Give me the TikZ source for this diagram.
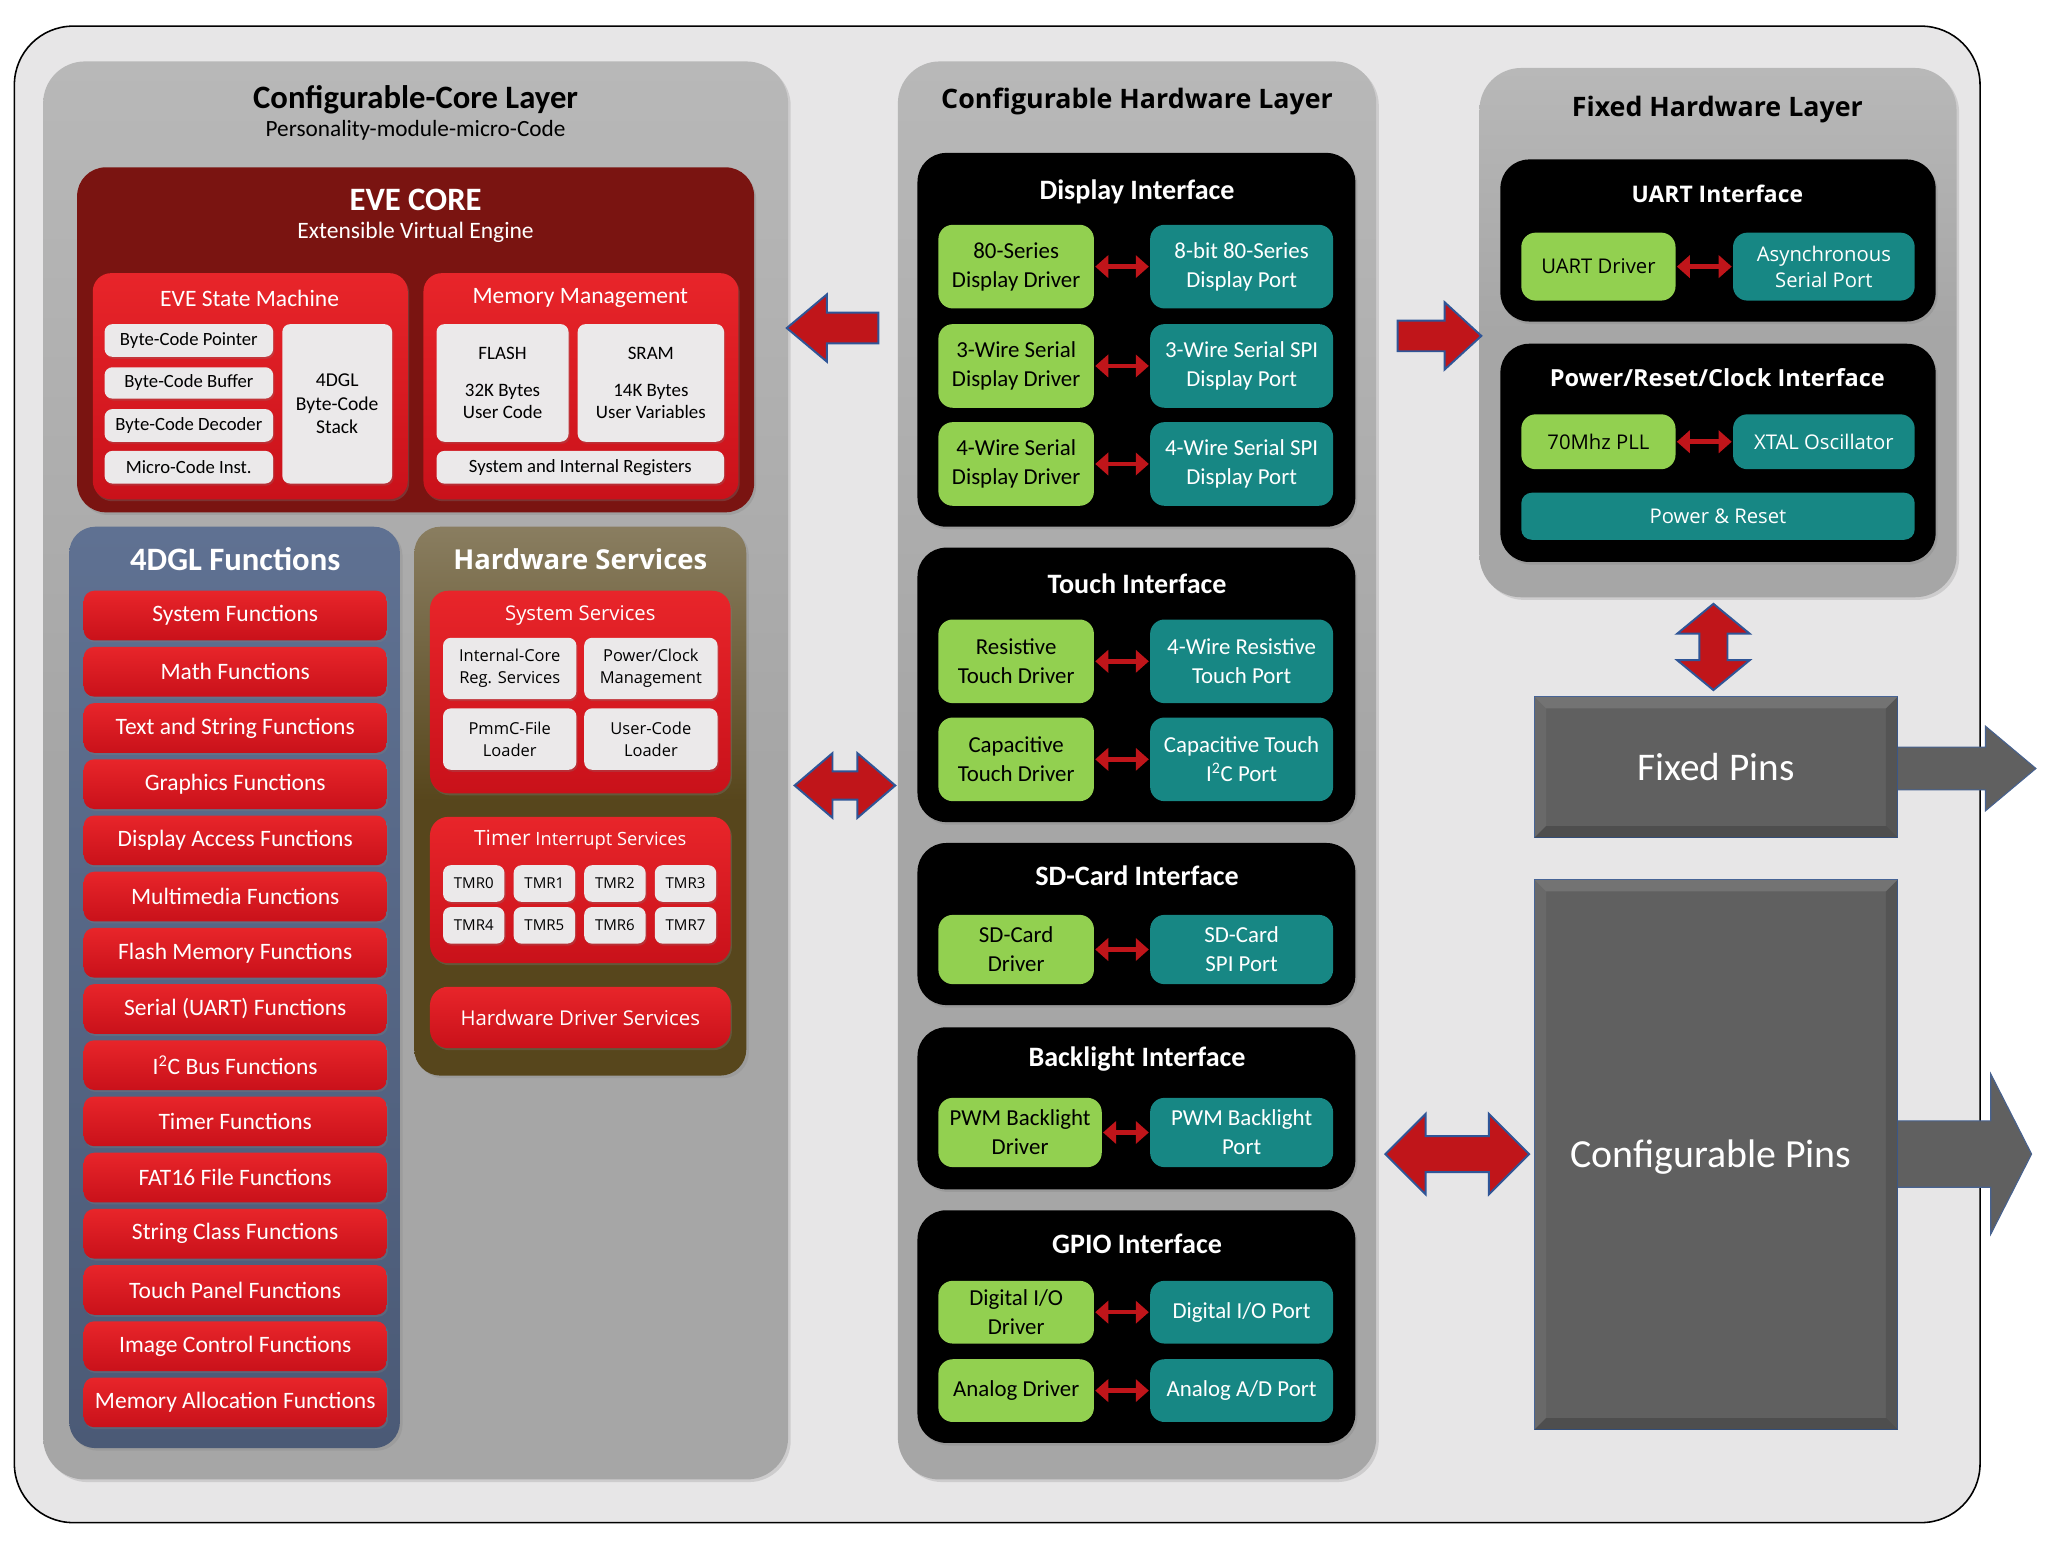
\documentclass[tikz,border=0pt]{standalone}
\usepackage{fontspec}
\setmainfont{Carlito}
\newfontfamily\tah{Open Sans}
\usetikzlibrary{shapes.arrows,arrows.meta,shadows,calc}
\definecolor{bgc}{HTML}{E7E6E7}
\definecolor{panelgray}{HTML}{A6A6A6}
\definecolor{paneltop}{HTML}{B8B8B8}
\definecolor{evered}{HTML}{7A1411}
\definecolor{redtop}{HTML}{E8252A}
\definecolor{redbot}{HTML}{C9111A}
\definecolor{lightbox}{HTML}{EBE9EA}
\definecolor{slatetop}{HTML}{5F7192}
\definecolor{slatebot}{HTML}{4B5A76}
\definecolor{olive}{HTML}{57461C}
\definecolor{greenc}{HTML}{92D050}
\definecolor{tealc}{HTML}{178784}
\definecolor{arrred}{HTML}{C0151A}
\definecolor{arrblue}{HTML}{2F5597}
\definecolor{pingray}{HTML}{606060}
\newcommand{\fs}[2]{\fontsize{#1}{#2}\selectfont}
\newcommand{\bx}[7]{\node[base, #6, minimum width={(#4)-(#2)}, minimum height={(#5)-(#3)}] (#1) at ({((#2)+(#4))/2},{((#3)+(#5))/2}) {#7};}
\begin{document}
\begin{tikzpicture}[x=1pt,y=-1pt,
  base/.style={inner sep=0pt, outer sep=0pt, align=center},
  outerbg/.style={fill=bgc, draw=black, line width=1.2pt, rounded corners=45pt},
  panel/.style={top color=paneltop, bottom color=panelgray, middle color=panelgray, rounded corners=32pt, drop shadow={shadow xshift=2pt, shadow yshift=-2pt, opacity=.25}},
  evebox/.style={fill=evered, rounded corners=22pt, drop shadow={shadow xshift=1.5pt, shadow yshift=-2pt, opacity=.3}},
  redbox/.style={top color=redtop, bottom color=redbot, rounded corners=14pt, drop shadow={shadow xshift=1pt, shadow yshift=-1.5pt, opacity=.3}},
  bar/.style={top color=redtop, bottom color=redbot, rounded corners=8pt, text=white, font=\fs{18}{20}, drop shadow={shadow xshift=1pt, shadow yshift=-1.5pt, opacity=.3}},
  whitebox/.style={fill=lightbox, rounded corners=6pt, drop shadow={shadow xshift=1pt, shadow yshift=-1.5pt, opacity=.25}},
  blackbox/.style={fill=black, rounded corners=22pt, drop shadow={shadow xshift=1.5pt, shadow yshift=-2pt, opacity=.3}},
  gbox/.style={fill=greenc, rounded corners=11pt, font=\fs{17.5}{22}},
  tbox/.style={fill=tealc, rounded corners=11pt, text=white, font=\fs{17.5}{22}},
  ttl/.style={font=\bfseries\fs{21.5}{24}, text=white},
  smallarr/.style={draw=arrred, line width=3.5pt, {Triangle[width=17pt,length=10pt]}-{Triangle[width=17pt,length=10pt]}, shorten <=1pt, shorten >=1pt},
  bigarr/.style={fill=arrred, draw=arrblue, line width=1.5pt, outer sep=0pt, inner xsep=0pt},
  grayarr/.style={fill=pingray, draw=arrblue!70!gray, line width=0.8pt, outer sep=0pt, inner xsep=0pt},
  pins/.style={fill=pingray, draw=arrblue!80!gray, line width=0.8pt, text=white},
]
\useasboundingbox (0,0) rectangle (1567,1188.3);

% outer frame
\bx{outer}{11}{20}{1515}{1165}{outerbg}{}

% ================= Configurable-Core Layer
\bx{core}{33}{47}{603}{1132}{panel}{}
\node[font=\bfseries\fs{25}{28}] (coreT) at (318,76) {Configurable-Core Layer};
\node[font=\fs{17.8}{20}] (coreS) at (318,100) {Personality-module-micro-Code};

\bx{eve}{59}{128}{577}{392}{evebox}{}
\node[text=white, font=\bfseries\fs{25}{28}] (eveT) at (318,153) {EVE CORE};
\node[text=white, font=\fs{18}{20}] (eveS) at (318,178) {Extensible Virtual Engine};

\bx{esm}{71}{209}{312}{382}{redbox}{}
\node[text=white, font=\fs{18}{20}] (esmT) at (191,228) {EVE State Machine};
\bx{bcp}{80}{248}{209}{273}{whitebox, font=\fs{14.3}{16}}{Byte-Code Pointer}
\bx{bcb}{80}{281}{209}{305}{whitebox, font=\fs{14.3}{16}}{Byte-Code Buffer}
\bx{bcd}{80}{313}{209}{338}{whitebox, font=\fs{14.3}{16}}{Byte-Code Decoder}
\bx{mci}{80}{345}{209}{370}{whitebox, font=\fs{14.3}{16}}{Micro-Code Inst.}
\bx{stk}{216}{248}{300}{370}{whitebox, font=\fs{15}{18}}{4DGL\\Byte-Code\\Stack}

\bx{mm}{324}{209}{565}{382}{redbox}{}
\node[text=white, font=\fs{18}{20}] (mmT) at (444,228) {Memory Management};
\bx{flash}{334}{248}{435}{338}{whitebox, font=\fs{14.5}{17}}{FLASH\\[11pt]32K Bytes\\User Code}
\bx{sram}{442}{248}{554}{338}{whitebox, font=\fs{14.5}{17}}{SRAM\\[11pt]14K Bytes\\User Variables}
\bx{sir}{334}{345}{554}{370}{whitebox, font=\fs{14.3}{16}}{System and Internal Registers}

% ================= 4DGL Functions
\bx{dgl}{53}{403}{306}{1108}{panel, top color=slatetop, bottom color=slatebot, middle color=slatetop!50!slatebot, rounded corners=20pt}{}
\node[text=white, font=\bfseries\fs{25}{30}] (dglT) at (180,428) {4DGL Functions};
\foreach \t [count=\i] in {{System Functions},{Math Functions},{Text and String Functions},{Graphics Functions},{Display Access Functions},{Multimedia Functions},{Flash Memory Functions},{Serial (UART) Functions},{I\textsuperscript{2}C Bus Functions},{Timer Functions},{FAT16 File Functions},{String Class Functions},{Touch Panel Functions},{Image Control Functions},{Memory Allocation Functions}}{
  \bx{f\i}{64}{452+43*(\i-1)}{296}{490+43*(\i-1)}{bar}{\t}
}

% ================= Hardware Services
\bx{hws}{317}{403}{571}{823}{panel, top color=olive!70!white, bottom color=olive, middle color=olive, rounded corners=20pt}{}
\node[text=white, font=\tah\bfseries\fs{21}{24}] (hwsT) at (444,428) {Hardware Services};
\bx{sys}{329}{452}{559}{607}{redbox}{}
\node[text=white, font=\tah\fs{15.5}{18}] (sysT) at (444,471) {System Services};
\bx{icr}{339}{488}{441}{535}{whitebox, font=\tah\fs{12.6}{17}}{Internal-Core\\Reg. Services}
\bx{pcm}{447}{488}{549}{535}{whitebox, font=\tah\fs{12.6}{17}}{Power/Clock\\Management}
\bx{pfl}{339}{542}{441}{589}{whitebox, font=\tah\fs{12.6}{17}}{PmmC-File\\Loader}
\bx{ucl}{447}{542}{549}{589}{whitebox, font=\tah\fs{12.6}{17}}{User-Code\\Loader}
\bx{tis}{329}{625}{559}{737}{redbox}{}
\node[text=white, font=\tah\fs{14}{16}] (tisT) at (444,643) {{\fs{16}{16}Timer} Interrupt Services};
\foreach \n [count=\i from 0] in {0,1,2,3}{
  \bx{tm\n}{339+54*\i}{662}{386+54*\i}{690}{whitebox, font=\tah\fs{11.5}{13}}{TMR\n}
}
\foreach \n [count=\i from 0] in {4,5,6,7}{
  \bx{tm\n}{339+54*\i}{694}{386+54*\i}{722}{whitebox, font=\tah\fs{11.5}{13}}{TMR\n}
}
\bx{hds}{329}{755}{559}{802}{redbox, text=white, font=\tah\fs{15.6}{18}}{Hardware Driver Services}

% ================= Configurable Hardware Layer
\bx{chw}{687}{47}{1053}{1132}{panel}{}
\node[font=\tah\bfseries\fs{20.5}{22}] (chwT) at (870,78) {Configurable Hardware Layer};

\bx{disp}{702}{117}{1037}{403}{blackbox}{}
\node[ttl] (dispT) at (870,147) {Display Interface};
\bx{dg1}{718}{172}{837}{236}{gbox}{80-Series\\Display Driver}
\bx{dt1}{880}{172}{1020}{236}{tbox}{8-bit 80-Series\\Display Port}
\bx{dg2}{718}{248}{837}{312}{gbox}{3-Wire Serial\\Display Driver}
\bx{dt2}{880}{248}{1020}{312}{tbox}{3-Wire Serial SPI\\Display Port}
\bx{dg3}{718}{323}{837}{387}{gbox}{4-Wire Serial\\Display Driver}
\bx{dt3}{880}{323}{1020}{387}{tbox}{4-Wire Serial SPI\\Display Port}

\bx{touch}{702}{419}{1037}{629}{blackbox}{}
\node[ttl] (touchT) at (870,447) {Touch Interface};
\bx{tg1}{718}{474}{837}{538}{gbox}{Resistive\\Touch Driver}
\bx{tt1}{880}{474}{1020}{538}{tbox}{4-Wire Resistive\\Touch Port}
\bx{tg2}{718}{549}{837}{613}{gbox}{Capacitive\\Touch Driver}
\bx{tt2}{880}{549}{1020}{613}{tbox}{Capacitive Touch\\I\textsuperscript{2}C Port}

\bx{sd}{702}{645}{1037}{769}{blackbox}{}
\node[ttl] (sdT) at (870,670) {SD-Card Interface};
\bx{sg1}{718}{700}{837}{753}{gbox}{SD-Card\\Driver}
\bx{st1}{880}{700}{1020}{753}{tbox}{SD-Card\\SPI Port}

\bx{back}{702}{786}{1037}{910}{blackbox}{}
\node[ttl] (backT) at (870,810) {Backlight Interface};
\bx{bg1}{718}{840}{843}{893}{gbox}{PWM Backlight\\Driver}
\bx{bt1}{880}{840}{1020}{893}{tbox}{PWM Backlight\\Port}

\bx{gpio}{702}{926}{1037}{1104}{blackbox}{}
\node[ttl] (gpioT) at (870,952) {GPIO Interface};
\bx{gg1}{718}{980}{837}{1028}{gbox}{Digital I/O\\Driver}
\bx{gt1}{880}{980}{1020}{1028}{tbox}{Digital I/O Port}
\bx{gg2}{718}{1040}{837}{1088}{gbox}{Analog Driver}
\bx{gt2}{880}{1040}{1020}{1088}{tbox}{Analog A/D Port}

\foreach \a/\b in {dg1/dt1,dg2/dt2,dg3/dt3,tg1/tt1,tg2/tt2,sg1/st1,bg1/bt1,gg1/gt1,gg2/gt2}{
  \draw[smallarr] (\a.east) -- (\b.west);
}

% ================= Fixed Hardware Layer
\bx{fhw}{1132}{52}{1497}{457}{panel}{}
\node[font=\tah\bfseries\fs{20.5}{22}] (fhwT) at (1314,84) {Fixed Hardware Layer};
\bx{uart}{1148}{122}{1481}{246}{blackbox}{}
\node[text=white, font=\tah\bfseries\fs{17.5}{20}] (uartT) at (1314,148) {UART Interface};
\bx{ug}{1164}{178}{1282}{230}{gbox, font=\tah\fs{15.5}{20}}{UART Driver}
\bx{ut}{1326}{178}{1465}{230}{tbox, font=\tah\fs{15.5}{20}}{Asynchronous\\Serial Port}
\bx{prc}{1148}{263}{1481}{430}{blackbox}{}
\node[text=white, font=\tah\bfseries\fs{18}{20}] (prcT) at (1314,289) {Power/Reset/Clock Interface};
\bx{pg}{1164}{317}{1282}{359}{gbox, font=\tah\fs{15.5}{20}}{70Mhz PLL}
\bx{pt}{1326}{317}{1465}{359}{tbox, font=\tah\fs{15.5}{20}}{XTAL Oscillator}
\bx{pr}{1164}{377}{1465}{413}{tbox, rounded corners=8pt, font=\tah\fs{15.5}{20}}{Power \& Reset}
\draw[smallarr] (ug.east) -- (ut.west);
\draw[smallarr] (pg.east) -- (pt.west);

% ================= gray output arrows (under pins)
\node[grayarr, single arrow, minimum height=110pt, inner ysep=16pt, single arrow head extend=16pt, single arrow tip angle=80] (ga1) at (1493,588) {};
\node[grayarr, single arrow, minimum height=110pt, inner ysep=25pt, single arrow head extend=36pt, single arrow tip angle=126] (ga2) at (1493,883) {};

% ================= Pins
\bx{fp}{1174}{533}{1452}{641}{pins}{}
\bx{cp}{1174}{673}{1452}{1094}{pins}{}
\foreach \p in {fp,cp}{
  \fill[white, opacity=.12] (\p.north west) -- (\p.north east) -- ($(\p.north east)+(-9,9)$) -- ($(\p.north west)+(9,9)$) -- cycle;
  \fill[white, opacity=.06] (\p.north west) -- ($(\p.north west)+(9,9)$) -- ($(\p.south west)+(9,-9)$) -- (\p.south west) -- cycle;
  \fill[black, opacity=.12] (\p.north east) -- ($(\p.north east)+(-9,9)$) -- ($(\p.south east)+(-9,-9)$) -- (\p.south east) -- cycle;
  \fill[black, opacity=.18] (\p.south west) -- ($(\p.south west)+(9,-9)$) -- ($(\p.south east)+(-9,-9)$) -- (\p.south east) -- cycle;
}
\node[text=white, font=\fs{30}{32}] (fpT) at (fp.center) {Fixed Pins};
\node[text=white, font=\fs{30.5}{32}] (cpT) at (1309,885) {Configurable Pins};

% ================= big red arrows
\node[bigarr, single arrow, rotate=180, minimum height=70pt, inner ysep=11pt, single arrow head extend=14pt, single arrow tip angle=80] (a1) at (644,251) {};
\node[bigarr, single arrow, minimum height=64pt, inner ysep=11pt, single arrow head extend=14pt, single arrow tip angle=85] (a2) at (1095,257) {};
\node[bigarr, double arrow, minimum height=77pt, inner ysep=10pt, double arrow head extend=14pt, double arrow tip angle=81] (a3) at (646.5,601) {};
\node[bigarr, double arrow, minimum height=110pt, inner ysep=13pt, double arrow head extend=17pt, double arrow tip angle=90] (a4) at (1115,883) {};
\node[bigarr, double arrow, rotate=90, minimum height=66pt, inner ysep=10pt, double arrow head extend=17pt, double arrow tip angle=101] (a5) at (1311,495) {};
\end{tikzpicture}
\end{document}
